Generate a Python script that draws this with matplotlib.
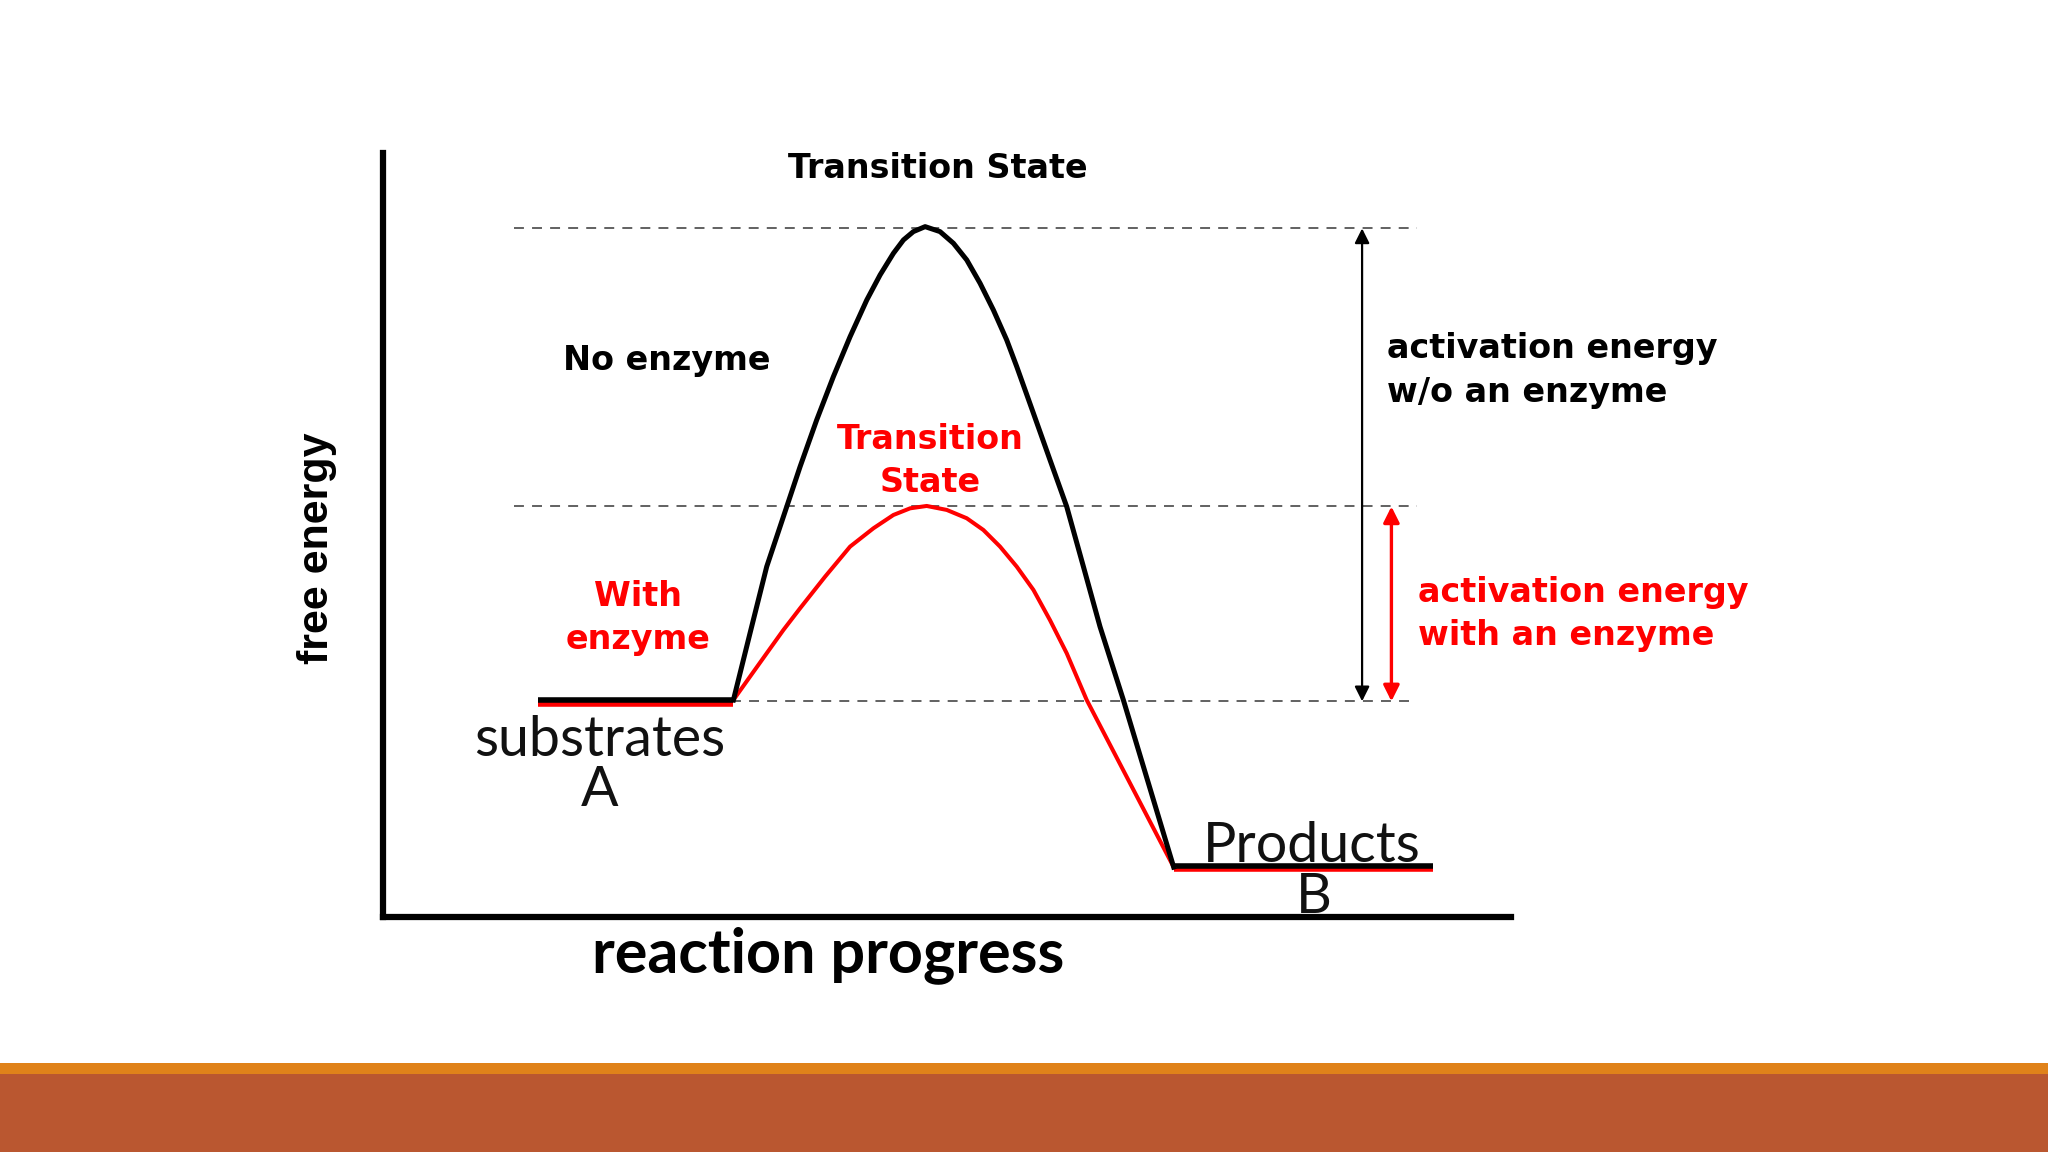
import matplotlib
matplotlib.use("Agg")
import matplotlib.pyplot as plt
from matplotlib.patches import Rectangle

# ---- data (reaction progress 0-100, free energy 0-100) ----
black_x = [31.08, 32.55, 34.03, 35.51, 36.99, 38.46, 39.94, 41.42, 42.90, 44.08, 45.26, 46.15,
           47.03, 48.07, 49.39, 50.58, 51.76, 52.94, 54.12, 55.30, 56.19, 57.67, 59.14, 60.62,
           62.10, 63.57, 65.64, 70.1]
black_y = [28.38, 37.11, 45.83, 52.37, 58.92, 65.03, 70.70, 75.93, 80.73, 84.01, 86.84, 88.59,
           89.68, 90.33, 89.68, 88.15, 85.97, 82.92, 79.42, 75.50, 72.01, 65.90, 59.79, 53.68,
           45.83, 37.98, 28.38, 6.5]
red_x = [31.08, 32.55, 34.03, 35.51, 36.99, 39.20, 41.42, 43.49, 45.26, 46.74, 48.21, 49.99,
         51.76, 53.23, 54.71, 56.19, 57.67, 59.14, 60.62, 62.39, 70.1]
red_y = [28.38, 31.43, 34.49, 37.54, 40.38, 44.51, 48.45, 50.85, 52.59, 53.46, 53.77, 53.25,
         52.16, 50.63, 48.45, 45.83, 42.78, 38.82, 34.49, 28.38, 6.5]

substrate_x = [13.8, 31.08]
substrate_level = 28.4
product_x = [70.1, 93.1]
product_level = 6.7

ts_no_enzyme = 90.1
ts_enzyme = 53.7
base_level = 28.2
dash_start = [11.6, 11.6, 30.9]
dash_end = 91.7
arrow_black_x = 86.8
arrow_red_x = 89.4

fig = plt.figure(figsize=(20.48, 11.52), dpi=100)
fig.patch.set_facecolor("white")

# bottom decorative bars
fig.patches.append(Rectangle((0, 0.0677), 1, 0.0096, transform=fig.transFigure,
                             facecolor="#E0821A", edgecolor="none"))
fig.patches.append(Rectangle((0, 0), 1, 0.0677, transform=fig.transFigure,
                             facecolor="#BA5730", edgecolor="none"))

ax = fig.add_axes([0.1869, 0.2042, 0.5509, 0.6632])
ax.set_xlim(0, 100)
ax.set_ylim(0, 100)
ax.set_facecolor("none")
for s in ["top", "right"]:
    ax.spines[s].set_visible(False)
for s in ["left", "bottom"]:
    ax.spines[s].set_linewidth(4.5)
    ax.spines[s].set_color("black")
ax.set_xticks([])
ax.set_yticks([])

# dashed reference lines
dash_levels = [ts_no_enzyme, ts_enzyme, base_level]
for lvl, x0 in zip(dash_levels, dash_start):
    ax.plot([x0, dash_end], [lvl, lvl], color="#555555", lw=1.3, dashes=[5.5, 4.5], zorder=1)

# energy levels (red beneath black)
ax.plot(substrate_x, [substrate_level - 0.5] * 2, color="#FF0000", lw=4, zorder=2, solid_capstyle="butt")
ax.plot(substrate_x, [substrate_level] * 2, color="black", lw=4, zorder=3, solid_capstyle="butt")
ax.plot(product_x, [product_level - 0.5] * 2, color="#FF0000", lw=4, zorder=2, solid_capstyle="butt")
ax.plot(product_x, [product_level] * 2, color="black", lw=4, zorder=3, solid_capstyle="butt")

# curves
ax.plot(black_x, black_y, color="black", lw=3.6, zorder=4, solid_joinstyle="round")
ax.plot(red_x, red_y, color="#FF0000", lw=2.9, zorder=3, solid_joinstyle="round")

# activation energy arrows
ax.annotate("", xy=(arrow_black_x, ts_no_enzyme), xytext=(arrow_black_x, base_level),
            arrowprops=dict(arrowstyle="<|-|>", color="black", lw=1.6, mutation_scale=22,
                            shrinkA=0, shrinkB=0))
ax.annotate("", xy=(arrow_red_x, ts_enzyme), xytext=(arrow_red_x, base_level),
            arrowprops=dict(arrowstyle="<|-|>", color="#FF0000", lw=2.4, mutation_scale=24,
                            shrinkA=0, shrinkB=0))

bold = dict(family="DejaVu Sans", fontweight="bold", fontsize=24)
ax.text(49.2, 97.9, "Transition State", color="black", ha="center", va="center", clip_on=False, **bold)
ax.text(25.2, 72.8, "No enzyme", color="black", ha="center", va="center", **bold)
ax.text(48.5, 59.6, "Transition\nState", color="#FF0000", ha="center", va="center",
        linespacing=1.38, **bold)
ax.text(22.6, 39.1, "With\nenzyme", color="#FF0000", ha="center", va="center",
        linespacing=1.4, **bold)
ax.text(89.0, 71.5, "activation energy\nw/o an enzyme", color="black", ha="left", va="center",
        linespacing=1.4, clip_on=False, **bold)
ax.text(91.8, 39.6, "activation energy\nwith an enzyme", color="#FF0000", ha="left", va="center",
        linespacing=1.4, clip_on=False, **bold)

reg = dict(family="Lato", fontsize=40, color="#111111")
ax.text(19.2, 23.1, "substrates", ha="center", va="center", **reg)
ax.text(19.2, 16.5, "A", ha="center", va="center", **reg)
ax.text(82.3, 9.2, "Products", ha="center", va="center", clip_on=False, **reg)
ax.text(82.5, 2.5, "B", ha="center", va="center", clip_on=False, **reg)

ax.text(39.5, -5.0, "reaction progress", ha="center", va="center", family="Lato",
        fontweight="bold", fontsize=44, color="black", clip_on=False)
ax.text(-5.8, 48.2, "free energy", ha="center", va="center", rotation=90,
        family="Liberation Sans", fontweight="bold", fontsize=31, color="black", clip_on=False)

fig.savefig("out.png", dpi=100, facecolor="white")
